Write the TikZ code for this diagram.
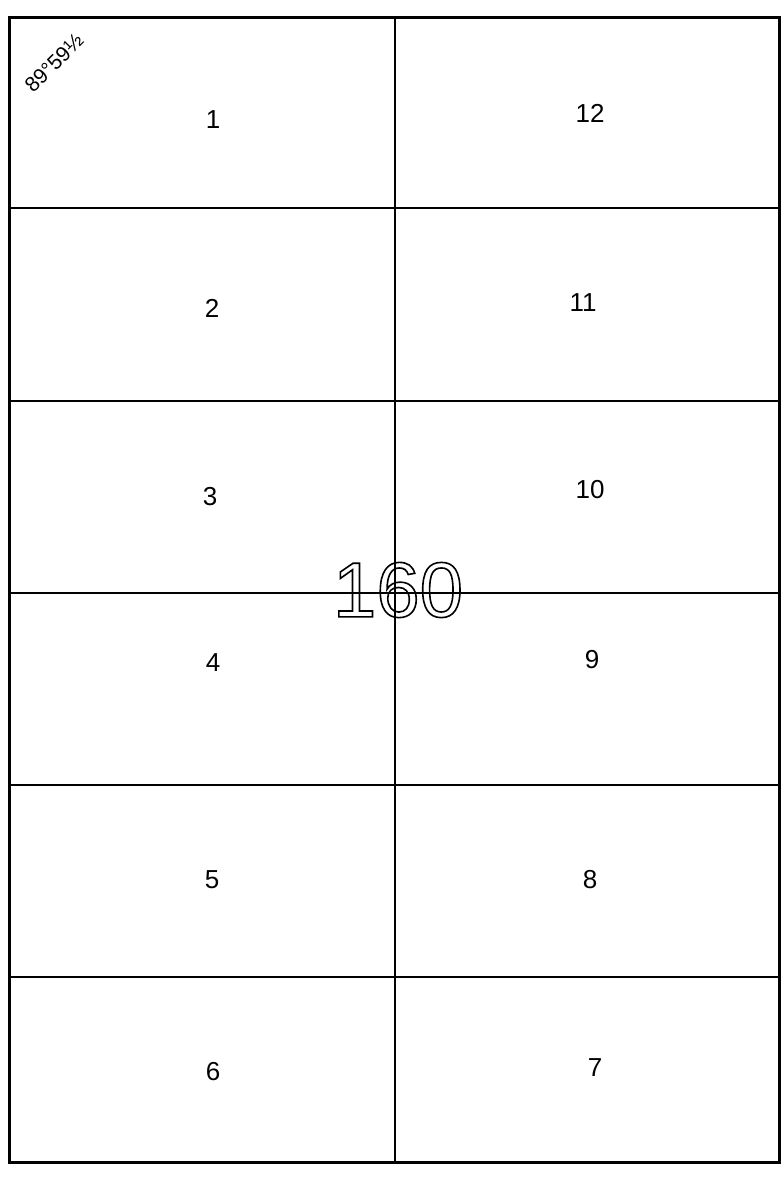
\documentclass[tikz,border=0pt]{standalone}
\usepackage{fontspec}
\setmainfont{Liberation Sans}
\usetikzlibrary{positioning, calc}
\newcommand{\hollow}[1]{\special{pdf:literal direct 1 Tr 1.6 w}#1\special{pdf:literal direct 0 Tr}}
\tikzset{
    sheet/.style   ={draw=black, line width=3pt},
    divider/.style ={draw=black, line width=1.6pt},
    lotnum/.style  ={font=\fontsize{26}{28}\selectfont, inner sep=0pt},
    bignum/.style  ={font=\fontsize{78}{80}\selectfont, inner sep=0pt},
    note/.style    ={font=\fontsize{21}{22}\selectfont, inner sep=0pt, rotate=45},
}

\begin{document}
\begin{tikzpicture}[x=1pt, y=-1pt]
                \useasboundingbox (0,0) rectangle (783,1179);
                \coordinate (tl) at (9,17);
                \coordinate (br) at (779,1162);
                % row dividers
                \foreach \yy in {208,401,593,785,977}
                    \draw[divider] (9,\yy) -- (779,\yy);
                \draw[divider] (395,17) -- (395,1162);
                \draw[sheet] (tl) rectangle (br);
                % lot numbers
                \node[lotnum] (l1) at (213,120) {1};
                \node[lotnum] (l2) at (212,308) {2};
                \node[lotnum] (l3) at (210,497) {3};
                \node[lotnum] (l4) at (213,663) {4};
                \node[lotnum] (l5) at (212,880) {5};
                \node[lotnum] (l6) at (213,1072) {6};
                \node[lotnum] (l7) at (595,1068) {7};
                \node[lotnum] (l8) at (590,880) {8};
                \node[lotnum] (l9) at (592,660) {9};
                \node[lotnum] (l10) at (590,490) {10};
                \node[lotnum] (l11) at (583,303) {11};
                \node[lotnum] (l12) at (590,113) {12};
                \node[bignum] (blk) at (398,590) {\hollow{160}};
                \node[note] (ang) at (54,63) {89°59½};
            \end{tikzpicture}
\end{document}
